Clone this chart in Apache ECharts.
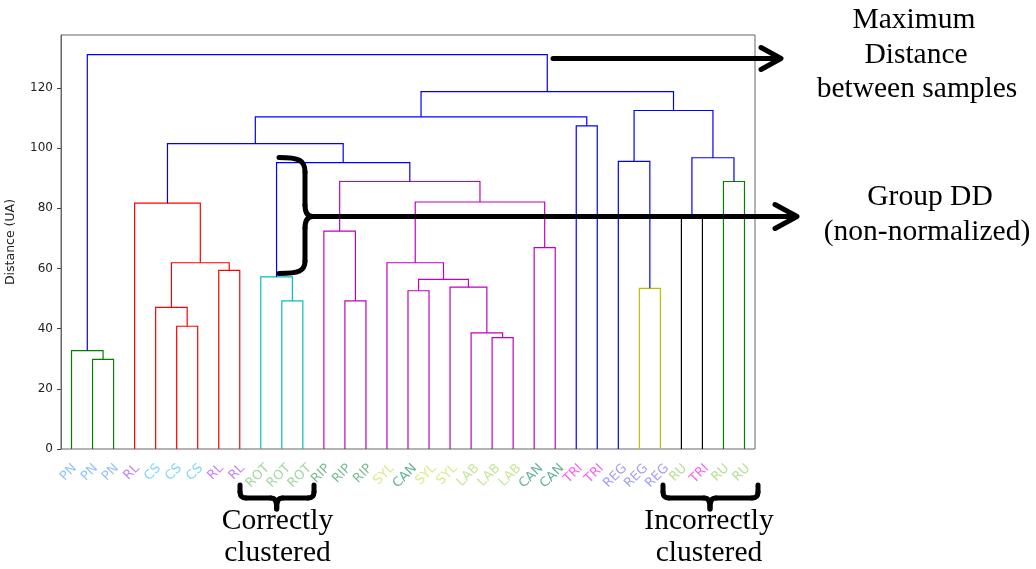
<!DOCTYPE html>
<html>
<head>
<meta charset="utf-8">
<script src="https://cdn.jsdelivr.net/npm/echarts@6/dist/echarts.min.js"></script>
<style>
  html, body { margin: 0; padding: 0; background: #fff; }
  #chart { width: 1036px; height: 569px; }
</style>
</head>
<body>
<div id="chart"></div>
<script>
// ---------------- data ----------------
const leafLabels = ['PN','PN','PN','RL','CS','CS','CS','RL','RL','ROT','ROT','ROT','RIP','RIP','RIP',
  'SYL','CAN','SYL','SYL','LAB','LAB','LAB','CAN','CAN','TRI','TRI','REG','REG','REG','RU','TRI','RU','RU'];

const labelColors = {
  PN: '#78b4fa', RL: '#b464f5', CS: '#5ccdfa', ROT: '#8ccc8a', RIP: '#5caa7a', SYL: '#d2e670',
  CAN: '#3c9c78', LAB: '#b8e080', TRI: '#f03cf0', REG: '#8888fa', RU: '#a6d67c'
};

// merges: [left child, right child, distance]; ids < 33 are leaves, id 33+k is merge k
const merges = [
  [1, 2, 29.8], [0, 33, 32.7],
  [5, 6, 40.8], [4, 35, 47.1], [7, 8, 59.4], [36, 37, 61.9], [3, 38, 81.7],
  [10, 11, 49.2], [9, 40, 57.2],
  [13, 14, 49.2], [12, 42, 72.4], [16, 17, 52.6], [20, 21, 37.0], [19, 45, 38.6], [18, 46, 53.8],
  [44, 47, 56.4], [15, 48, 61.9], [22, 23, 66.9], [49, 50, 82.1], [43, 51, 88.9],
  [41, 52, 95.2], [39, 53, 101.5], [24, 25, 107.4], [54, 55, 110.4],
  [27, 28, 53.4], [26, 57, 95.6], [29, 30, 77.8], [31, 32, 88.9], [59, 60, 96.8],
  [58, 61, 112.5], [56, 62, 118.8], [34, 63, 131.1]
];
const linkColorCodes = ['g','g','r','r','r','r','r','c','c','m','m','m','m','m','m','m','m','m','m','m',
  'b','b','b','b','y','b','k','g','b','b','b','b'];

const yTicks = [0, 20, 40, 60, 80, 100, 120];
const yMax = 137.6;

// ---------------- build ----------------
const palette = { g: '#008000', r: '#ff0000', c: '#00bfbf', m: '#bf00bf', y: '#bfbf00', k: '#000000', b: '#0000ff' };
const nLeaves = leafLabels.length;
const nodeX = [], nodeY = [];
for (let i = 0; i < nLeaves; i++) { nodeX[i] = 10 * i + 5; nodeY[i] = 0; }
const links = [];
merges.forEach((m, k) => {
  const [a, b, h] = m;
  const id = nLeaves + k;
  nodeX[id] = (nodeX[a] + nodeX[b]) / 2;
  nodeY[id] = h;
  links.push({
    coords: [[nodeX[a], nodeY[a]], [nodeX[a], h], [nodeX[b], h], [nodeX[b], nodeY[b]]],
    lineStyle: { color: palette[linkColorCodes[k]] }
  });
});

// leaf labels: rotated 45deg, top of rotated box aligned (matplotlib style)
const leafFont = 13;
const ctx = document.createElement('canvas').getContext('2d');
ctx.font = leafFont + 'px "DejaVu Sans"';
const R = Math.SQRT1_2;
const labelData = leafLabels.map((name, i) => {
  const w = ctx.measureText(name).width;
  const sx = -3, sy = 14 + 0.3535 * (w + 0.73 * leafFont);
  return {
    value: [nodeX[i], 0],
    label: { color: labelColors[name], offset: [R * (sx - sy), R * (sx + sy)] }
  };
});

const chart = echarts.init(document.getElementById('chart'), null, { renderer: 'canvas' });
const serif = 'Liberation Serif';
function txt(s, x, y) {
  return { type: 'text', x: x, y: y, z: 100, style: { text: s, font: '29.5px "' + serif + '"', fill: '#000', textAlign: 'center', textVerticalAlign: 'middle' } };
}
const stroke = { stroke: '#000', lineWidth: 5, fill: null, lineCap: 'round', lineJoin: 'round' };
// segments: ['L', x0,y0,x1,y1] or ['C', x0,y0,c1x,c1y,c2x,c2y,x1,y1]
function shapeEls(segs) {
  return segs.map(s => s[0] === 'L'
    ? { type: 'line', z: 100, shape: { x1: s[1], y1: s[2], x2: s[3], y2: s[4] }, style: stroke }
    : { type: 'bezierCurve', z: 100, shape: { x1: s[1], y1: s[2], cpx1: s[3], cpy1: s[4], cpx2: s[5], cpy2: s[6], x2: s[7], y2: s[8] }, style: stroke });
}
const braceRight = [
  ['C', 279, 157.5, 299, 157.5, 305, 160, 305, 172], ['L', 305, 172, 305, 205],
  ['C', 305, 205, 305, 213, 308, 216.5, 313, 216.5],
  ['C', 313, 216.5, 308, 216.5, 305, 220, 305, 228], ['L', 305, 228, 305, 261],
  ['C', 305, 261, 305, 271, 299, 273.5, 279, 273.5]
];
function braceDown(x0, xm, x1) {
  return [
    ['L', x0, 485, x0, 492], ['C', x0, 492, x0, 496, x0 + 2, 498, x0 + 6, 498], ['L', x0 + 6, 498, xm - 6, 498],
    ['C', xm - 6, 498, xm - 2, 498, xm, 500, xm, 509], ['C', xm, 509, xm, 500, xm + 2, 498, xm + 6, 498],
    ['L', xm + 6, 498, x1 - 6, 498], ['C', x1 - 6, 498, x1 - 2, 498, x1, 496, x1, 492], ['L', x1, 492, x1, 485]
  ];
}

chart.setOption({
  backgroundColor: '#fff',
  animation: false,
  grid: { left: 61, right: 281, top: 35, bottom: 120, containLabel: false, outerBoundsMode: 'none',
    show: true, borderColor: '#666', borderWidth: 1, backgroundColor: 'transparent' },
  xAxis: {
    type: 'value', min: 0, max: nLeaves * 10,
    axisLine: { show: false }, axisTick: { show: false }, axisLabel: { show: false }, splitLine: { show: false }
  },
  yAxis: {
    type: 'value', min: 0, max: yMax,
    name: 'Distance (UA)', nameLocation: 'middle', nameGap: 44,
    nameTextStyle: { fontSize: 12.5, color: '#222', fontFamily: 'DejaVu Sans' },
    axisLine: { show: true, lineStyle: { color: '#666' } },
    axisTick: { show: true, length: 4, customValues: yTicks, lineStyle: { color: '#444' } },
    axisLabel: { customValues: yTicks, fontSize: 12, color: '#222', fontFamily: 'DejaVu Sans', margin: 8 },
    splitLine: { show: false }
  },
  series: [
    {
      type: 'lines', coordinateSystem: 'cartesian2d', polyline: true, silent: true,
      lineStyle: { width: 1.2, opacity: 1 }, data: links, z: 3
    },
    {
      type: 'scatter', symbolSize: 0, silent: true, clip: false,
      label: {
        show: true, position: 'inside', rotate: 45, align: 'center', verticalAlign: 'middle',
        fontSize: leafFont, fontFamily: 'DejaVu Sans',
        formatter: (p) => leafLabels[p.dataIndex]
      },
      data: labelData
    }
  ],
  graphic: [
    // Maximum distance arrow
    { type: 'polyline', z: 100, shape: { points: [[553, 58.5], [778, 58.5]] }, style: stroke },
    { type: 'polyline', z: 100, shape: { points: [[761, 47.5], [781, 58.5], [761, 69.5]] }, style: stroke },
    // Group DD arrow
    { type: 'polyline', z: 100, shape: { points: [[312, 216.5], [795, 216.5]] }, style: stroke },
    { type: 'polyline', z: 100, shape: { points: [[775, 204.5], [797, 216.5], [775, 228.5]] }, style: stroke }
  ].concat(shapeEls(braceRight), shapeEls(braceDown(240, 276.7, 314)), shapeEls(braceDown(663, 710, 758)), [
    txt('Maximum', 914, 20), txt('Distance', 916, 55), txt('between samples', 917, 89),
    txt('Group DD', 930, 197), txt('(non-normalized)', 927, 232),
    txt('Correctly', 277.5, 521), txt('clustered', 277.5, 553),
    txt('Incorrectly', 709, 521), txt('clustered', 709, 553)
  ])
});
</script>
</body>
</html>
